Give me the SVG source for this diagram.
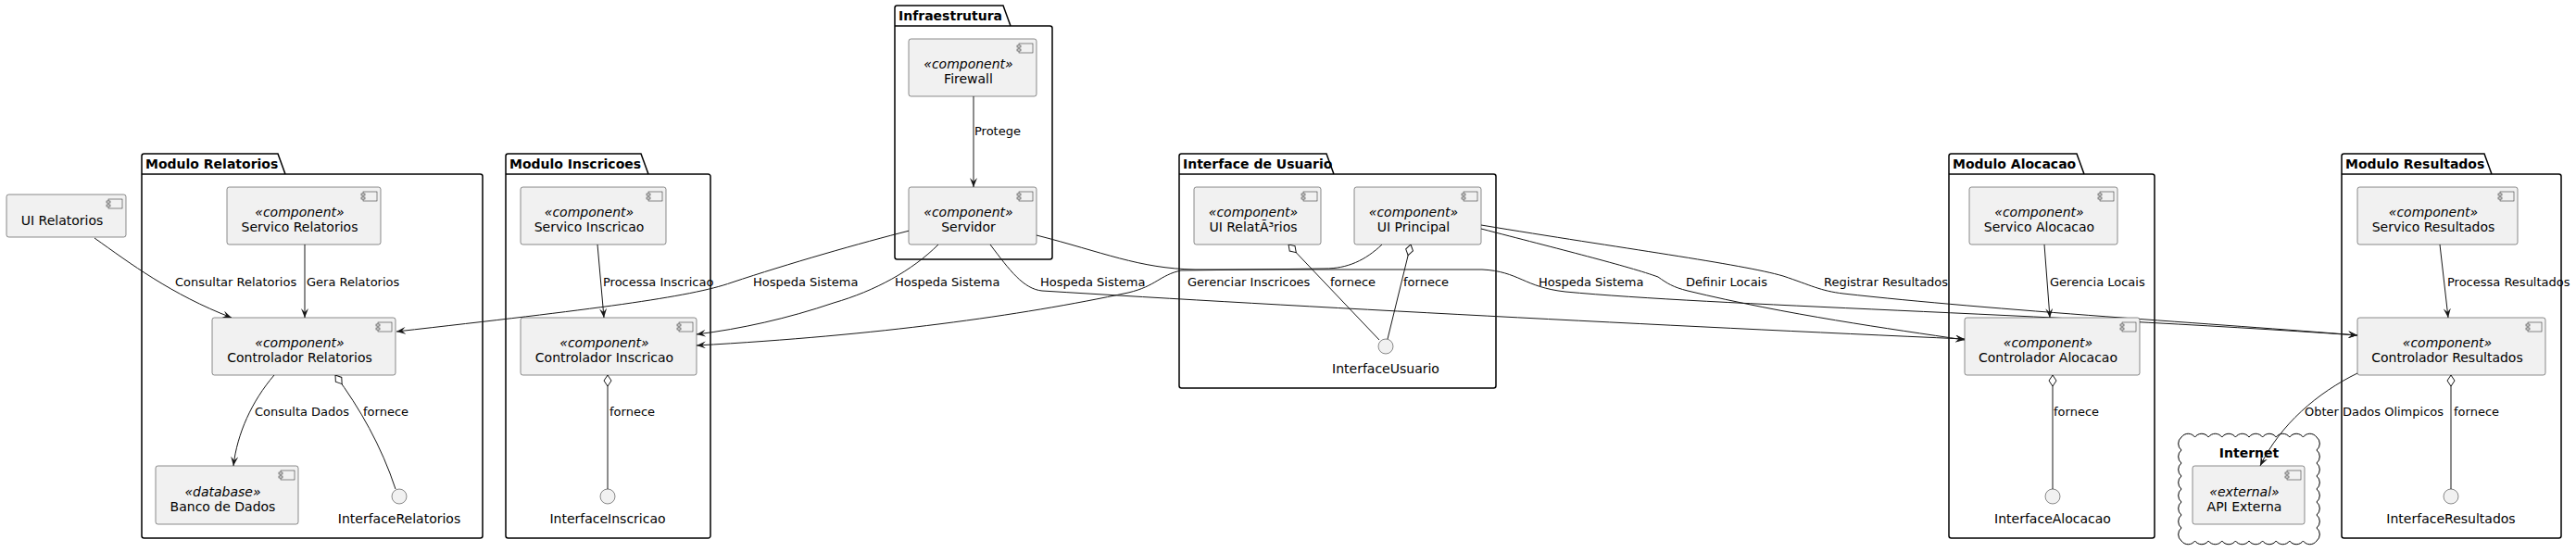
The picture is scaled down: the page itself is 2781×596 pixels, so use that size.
<svg xmlns="http://www.w3.org/2000/svg" width="2781" height="596" viewBox="0 0 2781 596">
<defs>
<style>
text{font-family:"DejaVu Sans","Liberation Sans",sans-serif;fill:#000}
.box{fill:#F1F1F1;stroke:#181818;stroke-width:0.5}
.ico{fill:#F1F1F1;stroke:#181818;stroke-width:0.5}
.pkg{fill:none;stroke:#000;stroke-width:1.5}
.pn{font-size:14px;font-weight:bold}
.st{font-size:14px;font-style:italic;text-anchor:middle}
.nm{font-size:14px;text-anchor:middle}
.lb{font-size:13px}
.edge{fill:none;stroke:#181818;stroke-width:1}
.arr{marker-end:url(#ah)}
.agg{marker-start:url(#dm)}
.ifc{fill:#F1F1F1;stroke:#181818;stroke-width:0.5}
</style>
<marker id="ah" viewBox="0 0 10 8" refX="10" refY="4" markerWidth="10" markerHeight="8" markerUnits="userSpaceOnUse" orient="auto">
<path d="M0,0 L10,4 L0,8 L4,4 Z" fill="#181818"/>
</marker>
<marker id="dm" viewBox="-1 -1 14 10" refX="0" refY="4" markerWidth="14" markerHeight="10" markerUnits="userSpaceOnUse" orient="auto">
<path d="M0,4 L6,0 L12,4 L6,8 Z" fill="#FFFFFF" stroke="#181818" stroke-width="1"/>
</marker>
<g id="cicon">
<rect class="ico" x="-19" y="5" width="15" height="10"/>
<rect class="ico" x="-21" y="7" width="4" height="2"/>
<rect class="ico" x="-21" y="11" width="4" height="2"/>
</g>
</defs>
<rect x="0" y="0" width="2781" height="596" fill="#FFFFFF"/>

<!-- packages -->
<g id="pkg-relatorios">
<path class="pkg" d="M155.5,166 L300,166 L308,188 L518.5,188 A2.5,2.5 0 0 1 521,190.5 L521,578.5 A2.5,2.5 0 0 1 518.5,581 L155.5,581 A2.5,2.5 0 0 1 153,578.5 L153,168.5 A2.5,2.5 0 0 1 155.5,166 Z M153,188 L308,188"/>
<text class="pn" x="157" y="182">Modulo Relatorios</text>
</g>
<g id="pkg-inscricoes">
<path class="pkg" d="M548.5,166 L692,166 L700,188 L764.5,188 A2.5,2.5 0 0 1 767,190.5 L767,578.5 A2.5,2.5 0 0 1 764.5,581 L548.5,581 A2.5,2.5 0 0 1 546,578.5 L546,168.5 A2.5,2.5 0 0 1 548.5,166 Z M546,188 L700,188"/>
<text class="pn" x="550" y="182">Modulo Inscricoes</text>
</g>
<g id="pkg-infra">
<path class="pkg" d="M968.5,6 L1083,6 L1091,28 L1133.5,28 A2.5,2.5 0 0 1 1136,30.5 L1136,277.5 A2.5,2.5 0 0 1 1133.5,280 L968.5,280 A2.5,2.5 0 0 1 966,277.5 L966,8.5 A2.5,2.5 0 0 1 968.5,6 Z M966,28 L1091,28"/>
<text class="pn" x="970" y="22">Infraestrutura</text>
</g>
<g id="pkg-ui">
<path class="pkg" d="M1275.5,166 L1432,166 L1440,188 L1612.5,188 A2.5,2.5 0 0 1 1615,190.5 L1615,416.5 A2.5,2.5 0 0 1 1612.5,419 L1275.5,419 A2.5,2.5 0 0 1 1273,416.5 L1273,168.5 A2.5,2.5 0 0 1 1275.5,166 Z M1273,188 L1440,188"/>
<text class="pn" x="1277" y="182">Interface de Usuario</text>
</g>
<g id="pkg-alocacao">
<path class="pkg" d="M2106.5,166 L2242,166 L2250,188 L2323.5,188 A2.5,2.5 0 0 1 2326,190.5 L2326,578.5 A2.5,2.5 0 0 1 2323.5,581 L2106.5,581 A2.5,2.5 0 0 1 2104,578.5 L2104,168.5 A2.5,2.5 0 0 1 2106.5,166 Z M2104,188 L2250,188"/>
<text class="pn" x="2108" y="182">Modulo Alocacao</text>
</g>
<g id="pkg-resultados">
<path class="pkg" d="M2530.5,166 L2682,166 L2690,188 L2762.5,188 A2.5,2.5 0 0 1 2765,190.5 L2765,578.5 A2.5,2.5 0 0 1 2762.5,581 L2530.5,581 A2.5,2.5 0 0 1 2528,578.5 L2528,168.5 A2.5,2.5 0 0 1 2530.5,166 Z M2528,188 L2690,188"/>
<text class="pn" x="2532" y="182">Modulo Resultados</text>
</g>
<g id="pkg-internet">
<path fill="#FFFFFF" stroke="#000" stroke-width="1" d="M2355,472 a9,9 0 0 1 14.6,0 a9,9 0 0 1 14.6,0 a9,9 0 0 1 14.6,0 a9,9 0 0 1 14.6,0 a9,9 0 0 1 14.6,0 a9,9 0 0 1 14.6,0 a9,9 0 0 1 14.6,0 a9,9 0 0 1 14.6,0 a9,9 0 0 1 14.6,0 a9,9 0 0 1 14.6,0 a9,9 0 0 1 0,14 a9,9 0 0 1 0,14 a9,9 0 0 1 0,14 a9,9 0 0 1 0,14 a9,9 0 0 1 0,14 a9,9 0 0 1 0,14 a9,9 0 0 1 0,14 a9,9 0 0 1 0,14 a9,9 0 0 1 -14.6,0 a9,9 0 0 1 -14.6,0 a9,9 0 0 1 -14.6,0 a9,9 0 0 1 -14.6,0 a9,9 0 0 1 -14.6,0 a9,9 0 0 1 -14.6,0 a9,9 0 0 1 -14.6,0 a9,9 0 0 1 -14.6,0 a9,9 0 0 1 -14.6,0 a9,9 0 0 1 -14.6,0 a9,9 0 0 1 0,-14 a9,9 0 0 1 0,-14 a9,9 0 0 1 0,-14 a9,9 0 0 1 0,-14 a9,9 0 0 1 0,-14 a9,9 0 0 1 0,-14 a9,9 0 0 1 0,-14 a9,9 0 0 1 0,-14 Z"/>
<text class="pn" x="2428" y="494" text-anchor="middle">Internet</text>
</g>

<!-- connectors -->
<g id="connectors">
<path class="edge arr" d="M102,257 C140,284 185,318 250,343"/>
<path class="edge arr" d="M329,264 L329,343"/>
<path class="edge arr" d="M296,405 C272,433 256,468 252,503"/>
<path class="edge agg" d="M362,405 C388,440 412,482 427,528"/>
<path class="edge arr" d="M645,264 L652,343"/>
<path class="edge agg" d="M656,405 L656,528"/>
<path class="edge arr" d="M1051,104 L1051,202"/>
<path class="edge arr" d="M982,249 C930,262 850,285 790,305 C745,321 640,334 428,358"/>
<path class="edge arr" d="M1013,264 C985,292 945,314 900,327 C850,344 800,355 752,361"/>
<path class="edge arr" d="M1492,264 C1474,281 1455,290 1430,290 L1275,292 C1252,297 1248,309 1218,316 C1100,341 950,362 752,373"/>
<path class="edge arr" d="M1069,264 C1090,292 1105,312 1125,314 C1400,331 1800,352 2121,366"/>
<path class="edge arr" d="M1119,254 C1190,272 1230,290 1290,291 L1600,291 C1640,293 1645,310 1690,315 C1850,330 2200,338 2545,362"/>
<path class="edge arr" d="M1599,247 C1680,268 1760,288 1790,299 C1800,306 1806,310 1822,314 C1930,340 2040,355 2121,367"/>
<path class="edge arr" d="M1599,243 C1750,268 1880,285 1925,298 C1955,308 1965,314 1990,317 C2150,335 2400,350 2545,362"/>
<path class="edge agg" d="M1391,264 L1489,367"/>
<path class="edge agg" d="M1523,264 L1498,366"/>
<path class="edge arr" d="M2207,264 L2213,343"/>
<path class="edge agg" d="M2216,405 L2216,528"/>
<path class="edge arr" d="M2634,264 L2643,343"/>
<path class="edge agg" d="M2646,405 L2646,528"/>
<path class="edge arr" d="M2545,403 C2502,424 2462,458 2440,503"/>
<text class="lb" x="189" y="309">Consultar Relatorios</text>
<text class="lb" x="331" y="309">Gera Relatorios</text>
<text class="lb" x="275" y="449">Consulta Dados</text>
<text class="lb" x="392" y="449">fornece</text>
<text class="lb" x="651" y="309">Processa Inscricao</text>
<text class="lb" x="658" y="449">fornece</text>
<text class="lb" x="1052" y="146">Protege</text>
<text class="lb" x="813" y="309">Hospeda Sistema</text>
<text class="lb" x="966" y="309">Hospeda Sistema</text>
<text class="lb" x="1123" y="309">Hospeda Sistema</text>
<text class="lb" x="1282" y="309">Gerenciar Inscricoes</text>
<text class="lb" x="1436" y="309">fornece</text>
<text class="lb" x="1515" y="309">fornece</text>
<text class="lb" x="1661" y="309">Hospeda Sistema</text>
<text class="lb" x="1820" y="309">Definir Locais</text>
<text class="lb" x="1969" y="309">Registrar Resultados</text>
<text class="lb" x="2213" y="309">Gerencia Locais</text>
<text class="lb" x="2217" y="449">fornece</text>
<text class="lb" x="2642" y="309">Processa Resultados</text>
<text class="lb" x="2649" y="449">fornece</text>
<text class="lb" x="2488" y="449">Obter Dados Olimpicos</text>
</g>

<!-- nodes -->
<g id="ui-relatorios">
<rect class="box" x="7" y="210" width="129" height="46" rx="2.5"/>
<use href="#cicon" x="136" y="210"/>
<text class="nm" x="67" y="243">UI Relatorios</text>
</g>
<g id="servico-relatorios">
<rect class="box" x="245" y="202" width="166" height="62" rx="2.5"/>
<use href="#cicon" x="411" y="202"/>
<text class="st" x="323.5" y="234">«component»</text>
<text class="nm" x="323.5" y="250">Servico Relatorios</text>
</g>
<g id="controlador-relatorios">
<rect class="box" x="229" y="343" width="198" height="62" rx="2.5"/>
<use href="#cicon" x="427" y="343"/>
<text class="st" x="323.5" y="375">«component»</text>
<text class="nm" x="323.5" y="391">Controlador Relatorios</text>
</g>
<g id="banco-dados">
<rect class="box" x="168" y="503" width="154" height="63" rx="2.5"/>
<use href="#cicon" x="322" y="503"/>
<text class="st" x="240.5" y="536">«database»</text>
<text class="nm" x="240.5" y="552">Banco de Dados</text>
</g>
<g id="interface-relatorios">
<circle class="ifc" cx="431" cy="536" r="8"/>
<text class="nm" x="431" y="565">InterfaceRelatorios</text>
</g>
<g id="servico-inscricao">
<rect class="box" x="562" y="202" width="157" height="62" rx="2.5"/>
<use href="#cicon" x="719" y="202"/>
<text class="st" x="636" y="234">«component»</text>
<text class="nm" x="636" y="250">Servico Inscricao</text>
</g>
<g id="controlador-inscricao">
<rect class="box" x="562" y="343" width="190" height="62" rx="2.5"/>
<use href="#cicon" x="752" y="343"/>
<text class="st" x="652.5" y="375">«component»</text>
<text class="nm" x="652.5" y="391">Controlador Inscricao</text>
</g>
<g id="interface-inscricao">
<circle class="ifc" cx="656" cy="536" r="8"/>
<text class="nm" x="656" y="565">InterfaceInscricao</text>
</g>
<g id="firewall">
<rect class="box" x="981" y="42" width="138" height="62" rx="2.5"/>
<use href="#cicon" x="1119" y="42"/>
<text class="st" x="1045.5" y="74">«component»</text>
<text class="nm" x="1045.5" y="90">Firewall</text>
</g>
<g id="servidor">
<rect class="box" x="981" y="202" width="138" height="62" rx="2.5"/>
<use href="#cicon" x="1119" y="202"/>
<text class="st" x="1045.5" y="234">«component»</text>
<text class="nm" x="1045.5" y="250">Servidor</text>
</g>
<g id="ui-relatorios-2">
<rect class="box" x="1289" y="202" width="137" height="62" rx="2.5"/>
<use href="#cicon" x="1426" y="202"/>
<text class="st" x="1353" y="234">«component»</text>
<text class="nm" x="1353" y="250">UI RelatÃ³rios</text>
</g>
<g id="ui-principal">
<rect class="box" x="1462" y="202" width="137" height="62" rx="2.5"/>
<use href="#cicon" x="1599" y="202"/>
<text class="st" x="1526" y="234">«component»</text>
<text class="nm" x="1526" y="250">UI Principal</text>
</g>
<g id="interface-usuario">
<circle class="ifc" cx="1496" cy="374" r="8"/>
<text class="nm" x="1496" y="403">InterfaceUsuario</text>
</g>
<g id="servico-alocacao">
<rect class="box" x="2126" y="202" width="160" height="62" rx="2.5"/>
<use href="#cicon" x="2286" y="202"/>
<text class="st" x="2201.5" y="234">«component»</text>
<text class="nm" x="2201.5" y="250">Servico Alocacao</text>
</g>
<g id="controlador-alocacao">
<rect class="box" x="2121" y="343" width="189" height="62" rx="2.5"/>
<use href="#cicon" x="2310" y="343"/>
<text class="st" x="2211" y="375">«component»</text>
<text class="nm" x="2211" y="391">Controlador Alocacao</text>
</g>
<g id="interface-alocacao">
<circle class="ifc" cx="2216" cy="536" r="8"/>
<text class="nm" x="2216" y="565">InterfaceAlocacao</text>
</g>
<g id="servico-resultados">
<rect class="box" x="2545" y="202" width="173" height="62" rx="2.5"/>
<use href="#cicon" x="2718" y="202"/>
<text class="st" x="2627" y="234">«component»</text>
<text class="nm" x="2627" y="250">Servico Resultados</text>
</g>
<g id="controlador-resultados">
<rect class="box" x="2545" y="343" width="203" height="62" rx="2.5"/>
<use href="#cicon" x="2748" y="343"/>
<text class="st" x="2642" y="375">«component»</text>
<text class="nm" x="2642" y="391">Controlador Resultados</text>
</g>
<g id="interface-resultados">
<circle class="ifc" cx="2646" cy="536" r="8"/>
<text class="nm" x="2646" y="565">InterfaceResultados</text>
</g>
<g id="api-externa">
<rect class="box" x="2367" y="503" width="121" height="63" rx="2.5"/>
<use href="#cicon" x="2488" y="503"/>
<text class="st" x="2423" y="536">«external»</text>
<text class="nm" x="2423" y="552">API Externa</text>
</g>
</svg>
